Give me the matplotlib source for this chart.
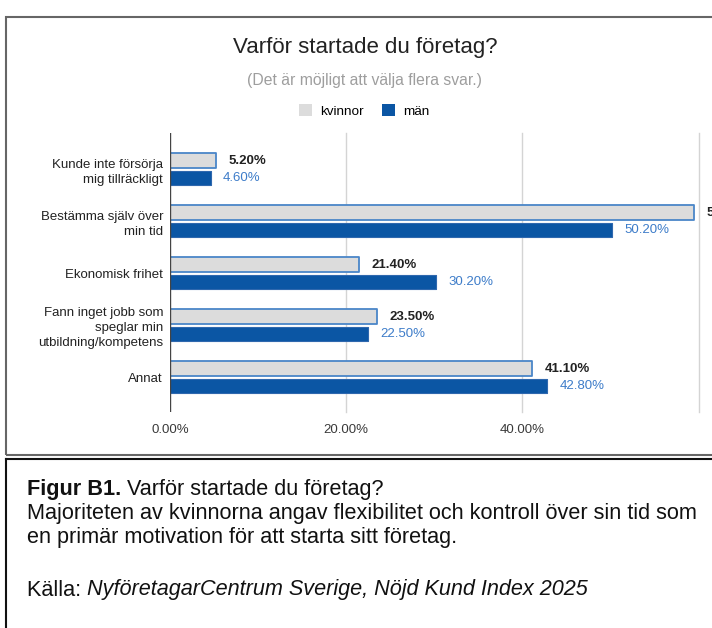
import matplotlib.pyplot as plt
from matplotlib.patches import Patch, Rectangle
from matplotlib.lines import Line2D
import numpy as np

plt.rcParams['font.family'] = ['Liberation Sans', 'DejaVu Sans']

categories = [
    "Kunde inte försörja\nmig tillräckligt",
    "Bestämma själv över\nmin tid",
    "Ekonomisk frihet",
    "Fann inget jobb som\nspeglar min\nutbildning/kompetens",
    "Annat",
]
kvinnor = [5.2, 59.5, 21.4, 23.5, 41.1]
man = [4.6, 50.2, 30.2, 22.5, 42.8]
xticks = [0, 20, 40]
xtick_labels = ["0.00%", "20.00%", "40.00%"]

W, H = 712, 628
GRAY = "#dcdcdc"
GRAY_EDGE = "#4a86c8"
BLUE = "#0b56a4"
BLUE_TXT = "#3d7cc9"


def fx(x):
    return x / W


def fy(y):
    return 1 - y / H


fig = plt.figure(figsize=(W / 100, H / 100), dpi=100)

# chart frame (cut off on the right in the source screenshot)
fig.add_artist(Rectangle((fx(5.5), fy(455)), 1.2, fy(17) - fy(455),
                         transform=fig.transFigure, fill=False,
                         edgecolor="#666666", linewidth=1.5))
# caption frame
fig.add_artist(Line2D([fx(6), 1.2], [fy(458.5), fy(458.5)],
                      transform=fig.transFigure, color="#111111", linewidth=1.5))
fig.add_artist(Line2D([fx(6), fx(6)], [fy(458.5), 0],
                      transform=fig.transFigure, color="#111111", linewidth=1.5))

ax = fig.add_axes([fx(170), fy(411.5), fx(698.6) - fx(170), fy(133) - fy(411.5)])

y = np.arange(len(categories))
h = 0.28
off = 0.167

ax.barh(y - off, kvinnor, height=h, color=GRAY, edgecolor=GRAY_EDGE,
        linewidth=1.3, joinstyle="round", zorder=3)
ax.barh(y + off, man, height=h, color=BLUE, edgecolor="#2f68ae",
        linewidth=0.8, joinstyle="round", zorder=3)

for i, v in enumerate(kvinnor):
    ax.annotate(f"{v:.2f}%", (v, i - off), xytext=(9, 0), textcoords="offset points",
                ha="left", va="center", fontsize=9.5, fontweight="bold",
                color="#222222", annotation_clip=False)
for i, v in enumerate(man):
    ax.annotate(f"{v:.2f}%", (v, i + off), xytext=(9, 0), textcoords="offset points",
                ha="left", va="center", fontsize=9.5, color=BLUE_TXT,
                annotation_clip=False)

ax.set_xlim(0, 60)
ax.set_ylim(4.66, -0.70)

for g in [20, 40, 60]:
    ax.axvline(g, color="#d4d4d4", linewidth=1, zorder=1, clip_on=False)
ax.axvline(0, color="#444444", linewidth=1, zorder=4)

ax.set_yticks(y)
ax.set_yticklabels(categories, fontsize=9.5, color="#222222", linespacing=1.3)
ax.set_xticks(xticks)
ax.set_xticklabels(xtick_labels, fontsize=9.5, color="#3a3a3a")
ax.tick_params(axis="both", length=0)
ax.tick_params(axis="x", pad=9)
ax.tick_params(axis="y", pad=5)
for s in ax.spines.values():
    s.set_visible(False)
ax.patch.set_alpha(0)

fig.text(fx(365), fy(48), "Varför startade du företag?", ha="center", va="center",
         fontsize=16, color="#222222")
fig.text(fx(364), fy(80), "(Det är möjligt att välja flera svar.)", ha="center",
         va="center", fontsize=11.3, color="#9e9e9e")

handles = [Patch(facecolor=GRAY, edgecolor="none"), Patch(facecolor=BLUE, edgecolor="none")]
fig.legend(handles, ["kvinnor", "män"], loc="center", bbox_to_anchor=(fx(364), fy(111)),
           ncol=2, frameon=False, fontsize=9.7, handlelength=0.95, handleheight=0.95,
           handletextpad=0.6, columnspacing=1.4)

# caption: runs of text with mixed styles, placed one after another
cap = 15.6
renderer = fig.canvas.get_renderer()


def run(parts, ypix, x0=27):
    x = x0
    for txt, kw in parts:
        t = fig.text(fx(x), fy(ypix), txt, ha="left", va="center", fontsize=cap,
                     color="#111111", **kw)
        x = t.get_window_extent(renderer).x1


run([("Figur B1. ", {"fontweight": "bold"}), ("Varför startade du företag?", {})], 490)
run([("Majoriteten av kvinnorna angav flexibilitet och kontroll över sin tid som", {})], 514)
run([("en primär motivation för att starta sitt företag.", {})], 537)
run([("Källa: ", {}), ("NyföretagarCentrum Sverige, Nöjd Kund Index 2025", {"style": "italic"})], 590)

fig.savefig("out.png", dpi=100)
